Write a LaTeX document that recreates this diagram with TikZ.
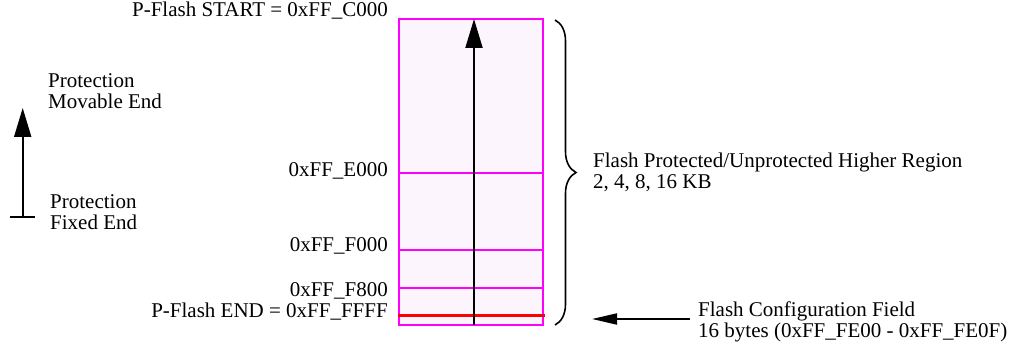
\documentclass[tikz,border=0pt]{standalone}
\usepackage{fontspec}
\setmainfont{Liberation Serif}
\usetikzlibrary{arrows.meta,decorations.pathreplacing}
\definecolor{mag}{RGB}{255,0,255}
\definecolor{boxfill}{RGB}{253,245,253}
\definecolor{redline}{RGB}{255,0,0}
\begin{document}
\begin{tikzpicture}[x=1pt,y=-1pt,
  lbl/.style={inner sep=0pt,font=\fontsize{21}{21}\selectfont},
  magline/.style={draw=mag,line width=2pt},
  bigarrow/.style={line width=2pt,-{Triangle[length=29pt,width=17pt]}},
  smallarrow/.style={line width=2pt,-{Triangle[length=25pt,width=11pt]}},
  bracestyle/.style={line width=1.6pt,decorate,decoration={brace,amplitude=21pt}}]
\useasboundingbox (0,0) rectangle (1015,344);
% memory box
\draw[magline,fill=boxfill] (399,19) rectangle (543,325);
\coordinate (e000l) at (399,173); \coordinate (e000r) at (543,173);
\coordinate (f000l) at (399,250); \coordinate (f000r) at (543,250);
\coordinate (f800l) at (399,288); \coordinate (f800r) at (543,288);
\draw[magline] (e000l) -- (e000r);
\draw[magline] (f000l) -- (f000r);
\draw[magline] (f800l) -- (f800r);
\coordinate (cfgl) at (398,316); \coordinate (cfgr) at (545,316);
\draw[draw=redline,line width=3pt] (cfgl) -- (cfgr);
% main arrow
\coordinate (mainbot) at (474,325); \coordinate (maintop) at (474,19);
\draw[bigarrow] (mainbot) -- (maintop);
% address labels
\node[lbl,anchor=base east] (start) at (388,17) {P-Flash START = 0xFF\_C000};
\node[lbl,anchor=base east] (ae000) at (388,177) {0xFF\_E000};
\node[lbl,anchor=base east] (af000) at (388,252) {0xFF\_F000};
\node[lbl,anchor=base east] (af800) at (388,297) {0xFF\_F800};
\node[lbl,anchor=base east] (pend) at (388,318) {P-Flash END = 0xFF\_FFFF};
% left legend
\node[lbl,anchor=base west] (movable) at (48,88) {\begin{tabular}[t]{@{}l@{}}Protection\\Movable End\end{tabular}};
\node[lbl,anchor=base west] (fixed) at (50,209) {\begin{tabular}[t]{@{}l@{}}Protection\\Fixed End\end{tabular}};
\coordinate (legbot) at (22.7,217); \coordinate (legtop) at (22.7,108);
\coordinate (barl) at (10,217); \coordinate (barr) at (35,217);
\draw[bigarrow] (legbot) -- (legtop);
\draw[line width=2pt] (barl) -- (barr);
% brace
\coordinate (bracetop) at (555,20); \coordinate (bracebot) at (555,325);
\draw[bracestyle] (bracetop) -- (bracebot);
\node[lbl,anchor=base west] (region) at (593,168) {\begin{tabular}[t]{@{}l@{}}Flash Protected/Unprotected Higher Region\\2, 4, 8, 16 KB\end{tabular}};
% configuration field
\node[lbl,anchor=base west] (cfg) at (698,317) {\begin{tabular}[t]{@{}l@{}}Flash Configuration Field\\16 bytes (0xFF\_FE00 - 0xFF\_FE0F)\end{tabular}};
\coordinate (cfgtip) at (592,319);
\draw[smallarrow] (cfg.west |- cfgtip) ++(-8,0) coordinate (cfgtail) (cfgtail) -- (cfgtip);
\end{tikzpicture}
\end{document}
